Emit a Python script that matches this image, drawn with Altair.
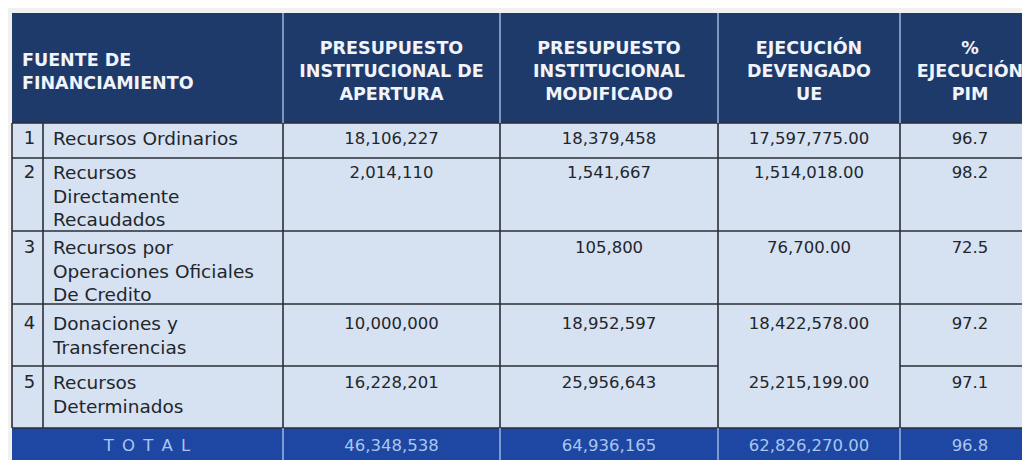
import altair as alt
import pandas as pd

# ---------------- data ----------------
numeros = ["1", "2", "3", "4", "5"]
fuentes = [
    "Recursos Ordinarios",
    "Recursos\nDirectamente\nRecaudados",
    "Recursos por\nOperaciones Oficiales\nDe Credito",
    "Donaciones y\nTransferencias",
    "Recursos\nDeterminados",
]
pia = [18106227, 2014110, None, 10000000, 16228201]
pim = [18379458, 1541667, 105800, 18952597, 25956643]
devengado = [17597775.00, 1514018.00, 76700.00, 18422578.00, 25215199.00]
pct_pim = [96.7, 98.2, 72.5, 97.2, 97.1]

total_label = "T\u2002O\u2002T\u2002A\u2002L"
total_pia = 46348538
total_pim = 64936165
total_dev = 62826270.00
total_pct = 96.8

headers = [
    "FUENTE DE\nFINANCIAMIENTO",
    "PRESUPUESTO\nINSTITUCIONAL DE\nAPERTURA",
    "PRESUPUESTO\nINSTITUCIONAL\nMODIFICADO",
    "EJECUCIÓN\nDEVENGADO\nUE",
    "%\nEJECUCIÓN\nPIM",
]

# ---------------- layout (pixels of the reference) ----------------
X_EDGES = [12, 43, 283, 500, 718, 900, 1040]
Y_EDGES = [13, 123, 158, 231, 304, 366, 428, 480]
ROW_TEXT_OFFSET = [15, 14, 16, 19, 16]
VIEW_X = [8, 1022]
VIEW_Y = [8, 460]

FONT = "DejaVu Sans"
HEAD_FS = 17.5
NAME_FS = 18.5
NUM_FS = 16.5
IDX_FS = 18
TOT_FS = 16.5
HEAD_LH = 23
DATA_LH = 23.5

NAVY = "#1e3a6a"
CELL = "#d6e2f2"
TOTAL_BG = "#1e47a3"
DARK_LINE = "#2a2e36"
LIGHT_LINE = "#9db8df"
HEAD_TXT = "#f1f4fa"
DATA_TXT = "#22262b"
TOT_TXT = "#a9c6ee"


def fmt_int(v):
    return "" if v is None else f"{v:,.0f}"


def fmt_dec(v):
    return f"{v:,.2f}"


def fmt_pct(v):
    return f"{v:.1f}"


xs = alt.Scale(domain=VIEW_X, nice=False, zero=False)
ys = alt.Scale(domain=VIEW_Y, nice=False, zero=False, reverse=True)
X = alt.X("x:Q", scale=xs, axis=None)
Y = alt.Y("y:Q", scale=ys, axis=None)

left, right = X_EDGES[0], X_EDGES[-1]
col_center = [(X_EDGES[i] + X_EDGES[i + 1]) / 2 for i in range(len(X_EDGES) - 1)]
col_center[5] = 970

# backgrounds
cells = pd.DataFrame([
    dict(x=left, x2=right, y=Y_EDGES[0], y2=Y_EDGES[1], fill=NAVY),
    dict(x=left, x2=right, y=Y_EDGES[1], y2=Y_EDGES[6], fill=CELL),
    dict(x=left, x2=right, y=Y_EDGES[6], y2=Y_EDGES[7], fill=TOTAL_BG),
])

# grid lines
dark = []
for yb in Y_EDGES[1:7]:
    if yb == Y_EDGES[5]:
        dark.append(dict(x=left, x2=X_EDGES[4], y=yb, y2=yb))
        dark.append(dict(x=X_EDGES[5], x2=right, y=yb, y2=yb))
    else:
        dark.append(dict(x=left, x2=right, y=yb, y2=yb))
for xb in X_EDGES[:6]:
    dark.append(dict(x=xb, x2=xb, y=Y_EDGES[1], y2=Y_EDGES[6]))
dark = pd.DataFrame(dark)

light = []
for xb in X_EDGES[2:6]:
    light.append(dict(x=xb, x2=xb, y=Y_EDGES[0], y2=Y_EDGES[1]))
    light.append(dict(x=xb, x2=xb, y=Y_EDGES[6], y2=Y_EDGES[7]))
light = pd.DataFrame(light)


def top_for_center(c, fs):
    # baseline "top": cap centre sits ~0.425*fs below y
    return c - 0.425 * fs


# header texts
head_rows = []
for i, h in enumerate(headers):
    n = h.count("\n") + 1
    centre = 71 if i == 0 else 70
    first = centre - (n - 1) * HEAD_LH / 2
    xpos = 22 if i == 0 else col_center[i + 1]
    head_rows.append(dict(x=xpos, y=top_for_center(first, HEAD_FS), label=h, al="left" if i == 0 else "center"))
head_df = pd.DataFrame(head_rows)

# body texts
name_rows, idx_rows, cen_rows = [], [], []
for r in range(5):
    c = Y_EDGES[r + 1] + ROW_TEXT_OFFSET[r]
    yn = top_for_center(c, NAME_FS)
    yv = top_for_center(c, NUM_FS)
    name_rows.append(dict(x=X_EDGES[1] + 10, y=yn, label=fuentes[r]))
    idx_rows.append(dict(x=col_center[0] + 2, y=top_for_center(c, IDX_FS), label=numeros[r]))
    cen_rows.append(dict(x=col_center[2], y=yv, label=fmt_int(pia[r])))
    cen_rows.append(dict(x=col_center[3], y=yv, label=fmt_int(pim[r])))
    cen_rows.append(dict(x=col_center[4], y=yv, label=fmt_dec(devengado[r])))
    cen_rows.append(dict(x=col_center[5], y=yv, label=fmt_pct(pct_pim[r])))
name_df = pd.DataFrame(name_rows)
idx_df = pd.DataFrame(idx_rows)
cen_df = pd.DataFrame(cen_rows)

yt_tot = top_for_center(445, TOT_FS)
tot_df = pd.DataFrame([
    dict(x=147, y=yt_tot, label=total_label),
    dict(x=col_center[2], y=yt_tot, label=fmt_int(total_pia)),
    dict(x=col_center[3], y=yt_tot, label=fmt_int(total_pim)),
    dict(x=col_center[4], y=yt_tot, label=fmt_dec(total_dev)),
    dict(x=col_center[5], y=yt_tot, label=fmt_pct(total_pct)),
])

rects = alt.Chart(cells).mark_rect(clip=True).encode(
    x=X, x2="x2:Q", y=Y, y2="y2:Q", color=alt.Color("fill:N", scale=None)
)
dark_rules = alt.Chart(dark).mark_rule(clip=True, strokeWidth=1.6, color=DARK_LINE).encode(
    x=X, x2="x2:Q", y=Y, y2="y2:Q"
)
light_rules = alt.Chart(light).mark_rule(clip=True, strokeWidth=1.5, color=LIGHT_LINE).encode(
    x=X, x2="x2:Q", y=Y, y2="y2:Q"
)


def text_layer(df, align, fs, weight, color, lh):
    return alt.Chart(df).mark_text(
        clip=True, align=align, baseline="top", font=FONT, fontSize=fs,
        fontWeight=weight, color=color, lineBreak="\n", lineHeight=lh,
    ).encode(x=X, y=Y, text=alt.Text("label:N"))


head_left = text_layer(head_df[head_df.al == "left"], "left", HEAD_FS, "bold", HEAD_TXT, HEAD_LH)
head_cen = text_layer(head_df[head_df.al == "center"], "center", HEAD_FS, "bold", HEAD_TXT, HEAD_LH)
names = text_layer(name_df, "left", NAME_FS, "normal", DATA_TXT, DATA_LH)
idx = text_layer(idx_df, "center", IDX_FS, "normal", DATA_TXT, DATA_LH)
values = text_layer(cen_df, "center", NUM_FS, "normal", DATA_TXT, DATA_LH)
totals = text_layer(tot_df, "center", TOT_FS, "normal", TOT_TXT, DATA_LH)

chart = alt.layer(
    rects, dark_rules, light_rules, head_left, head_cen, names, idx, values, totals
).properties(
    width=VIEW_X[1] - VIEW_X[0], height=VIEW_Y[1] - VIEW_Y[0], padding=0, background="#f1f1ef"
).configure_view(strokeWidth=0)

chart.save("out.html", embed_options={"renderer": "svg", "actions": False})
